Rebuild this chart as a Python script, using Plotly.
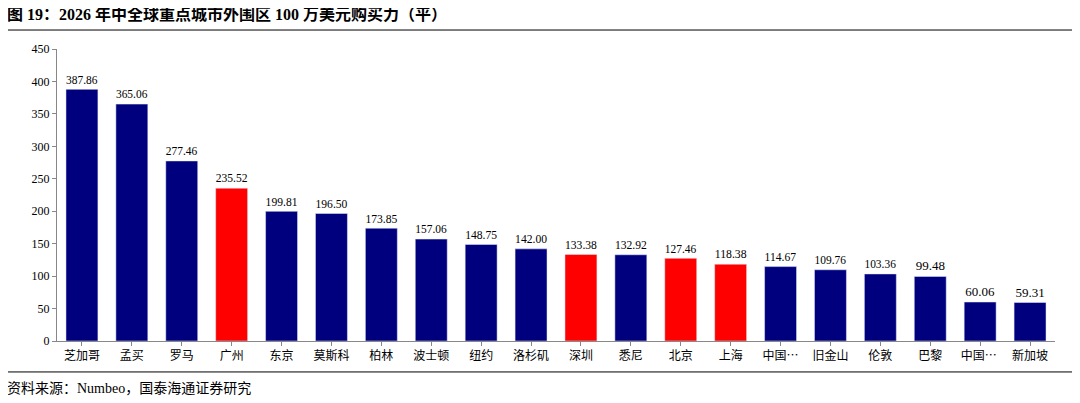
import plotly.graph_objects as go

cities = ["芝加哥","孟买","罗马","广州","东京","莫斯科","柏林","波士顿","纽约","洛杉矶",
          "深圳","悉尼","北京","上海","中国…","旧金山","伦敦","巴黎","中国… ","新加坡"]
values = [387.86,365.06,277.46,235.52,199.81,196.50,173.85,157.06,148.75,142.00,
          133.38,132.92,127.46,118.38,114.67,109.76,103.36,99.48,60.06,59.31]
highlight = ["广州","深圳","北京","上海"]
colors = ["#FF0000" if c in highlight else "#00007F" for c in cities]

F = "Liberation Serif, Noto Sans CJK SC"
fig = go.Figure(go.Bar(x=cities, y=values, marker_color=colors,
                       text=[f"{v:.2f}" for v in values], textposition="outside",
                       textfont=dict(family=F, size=13, color="black"), cliponaxis=False))
fig.update_layout(
    width=1080, height=403, plot_bgcolor="white", paper_bgcolor="white",
    margin=dict(l=49, r=33, t=41, b=70), bargap=0.36, showlegend=False,
    font=dict(family=F, size=12, color="black"),
    xaxis=dict(showline=True, linecolor="#888", ticks="outside", ticklen=4, tickcolor="#888",
               tickfont=dict(family="Noto Sans CJK SC", size=12)),
    yaxis=dict(range=[0,450], dtick=50, showline=True, linecolor="#888", ticks="outside",
               ticklen=4, tickcolor="#888", showgrid=False, tickfont=dict(family=F, size=12)),
    shapes=[dict(type="line", xref="paper", yref="paper", x0=-0.052, x1=1.02, y0=1.065, y1=1.065,
                 line=dict(color="black", width=1)),
            dict(type="line", xref="paper", yref="paper", x0=-0.052, x1=1.02, y0=-0.106, y1=-0.106,
                 line=dict(color="black", width=1))],
    annotations=[dict(text="<b>图 19：2026 年中全球重点城市外围区 100 万美元购买力（平）</b>",
                      xref="paper", yref="paper", x=-0.052, y=1.12, xanchor="left", yanchor="middle",
                      showarrow=False, font=dict(family=F, size=16)),
                 dict(text="资料来源：Numbeo，国泰海通证券研究", xref="paper", yref="paper",
                      x=-0.052, y=-0.162, xanchor="left", yanchor="middle", showarrow=False,
                      font=dict(family=F, size=14))])
fig.write_html("out.html")
